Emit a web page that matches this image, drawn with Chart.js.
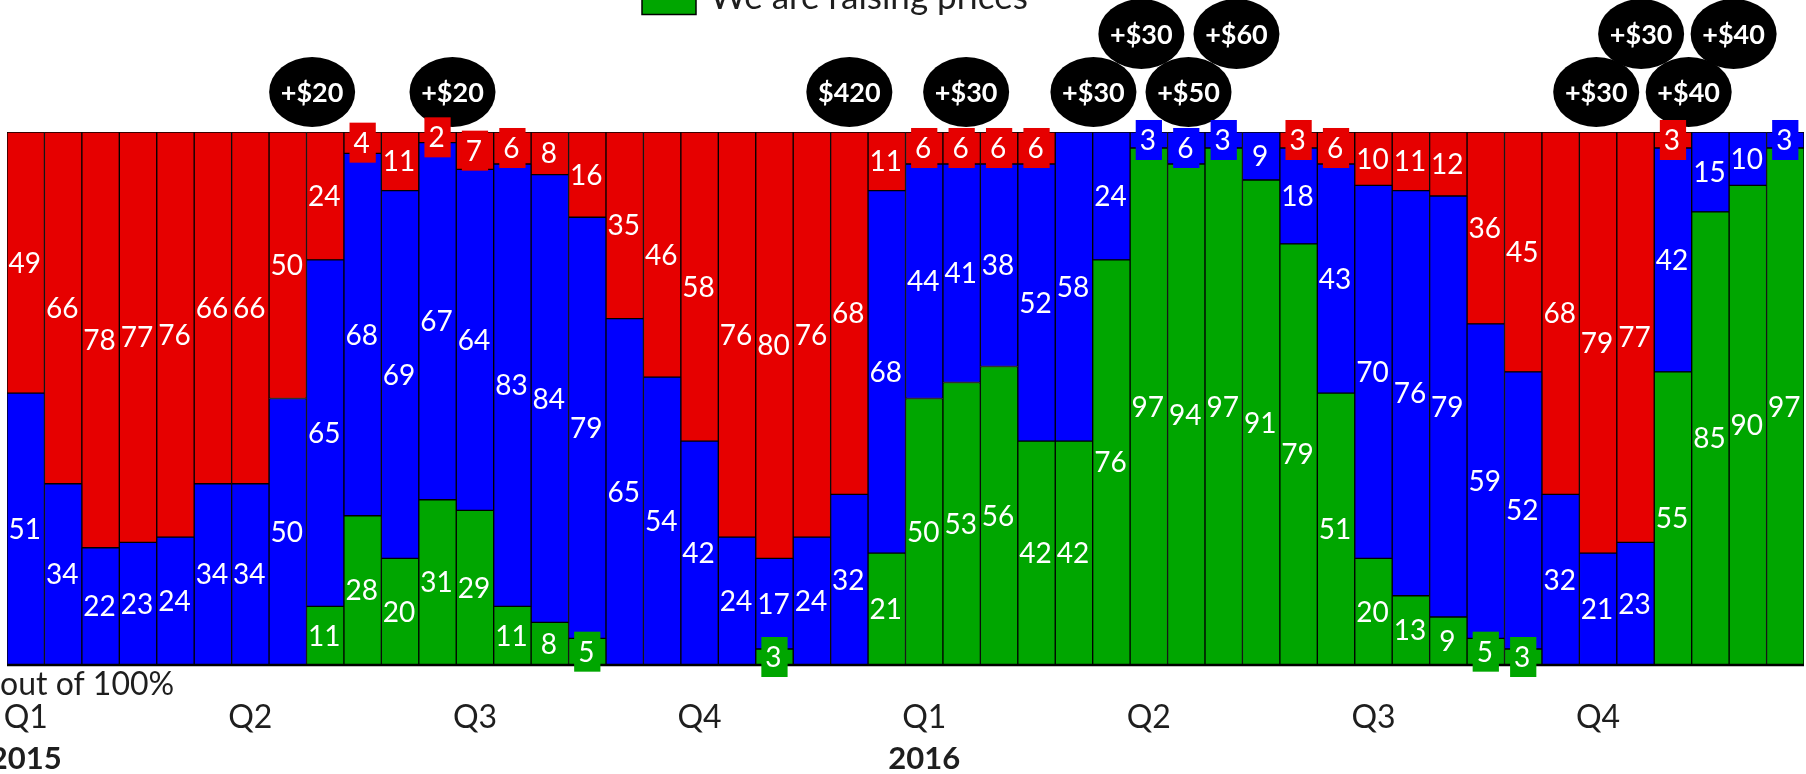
<!DOCTYPE html>
<html><head><meta charset="utf-8">
<script src="https://cdn.jsdelivr.net/npm/chart.js@4"></script>
<style>html,body{margin:0;padding:0;background:#fff;overflow:hidden}canvas{display:block}</style>
</head><body>
<canvas id="c" width="1806" height="774" style="width:1806px;height:774px"></canvas>
<script>
// ---- tick labels ----
const quarterTicks = [
  'Q1','','','','','',
  'Q2','','','','','',
  'Q3','','','','','',
  'Q4','','','','','',
  'Q1','','','','','',
  'Q2','','','','','',
  'Q3','','','','','',
  'Q4','','','','',''
];
const yearTicks = [
  '2015','','','','','',
  '','','','','','',
  '','','','','','',
  '','','','','','',
  '2016','','','','','',
  '','','','','','',
  '','','','','','',
  '','','','','',''
];
const axisNote = 'out of 100%';
const legendLabel = 'We are raising prices';

// ---- series values (out of 100) ----
const greenValues = [0,0,0,0,0,0,0,0,11,28,20,31,29,11,8,5,0,0,0,0,3,0,0,21,50,53,56,42,42,76,97,94,97,91,79,51,20,13,9,5,3,0,0,0,55,85,90,97];
const blueValues  = [51,34,22,23,24,34,34,50,65,68,69,67,64,83,84,79,65,54,42,24,17,24,32,68,44,41,38,52,58,24,3,6,3,9,18,43,70,76,79,59,52,32,21,23,42,15,10,3];
const redValues   = [49,66,78,77,76,66,66,50,24,4,11,2,7,6,8,16,35,46,58,76,80,76,68,11,6,6,6,6,0,0,0,0,0,0,3,6,10,11,12,36,45,68,79,77,3,0,0,0];

// ---- callouts (category position, row) ----
const calloutText = ['+$20','+$20','$420','+$30','+$30','+$30','+$50','+$60','+$30','+$30','+$40','+$40'];
const calloutAt   = [7.65, 11.4, 22.0, 25.12, 28.52, 29.8, 31.06, 32.34, 41.95, 43.15, 44.42, 45.62];
const calloutRow  = [0,0,0,0,0,1,0,1,0,1,0,1];

const GREEN = '#00A600', BLUE = '#0000FF', RED = '#E60000';
const FONT = 'Lato, "Open Sans", sans-serif';

const overlay = {
  id: 'overlay',
  afterDatasetsDraw(chart) {
    const ctx = chart.ctx, ca = chart.chartArea, xs = chart.scales.x;
    ctx.save();
    // bottom axis line
    ctx.strokeStyle = '#000'; ctx.lineWidth = 2.5;
    ctx.beginPath(); ctx.moveTo(ca.left, ca.bottom); ctx.lineTo(ca.right, ca.bottom); ctx.stroke();
    // callout ellipses
    const step = xs.getPixelForValue(1) - xs.getPixelForValue(0);
    ctx.textAlign = 'center'; ctx.textBaseline = 'alphabetic';
    const cfs = 27;
    calloutAt.forEach((at, i) => {
      const f = Math.floor(at);
      const x = xs.getPixelForValue(f) + (at - f) * step;
      const y = ca.top - (calloutRow[i] ? 98 : 40);
      ctx.fillStyle = '#000';
      ctx.beginPath(); ctx.ellipse(x, y, 43, 35, 0, 0, Math.PI * 2); ctx.fill();
      ctx.fillStyle = '#fff'; ctx.font = 'bold ' + cfs + 'px ' + FONT;
      ctx.fillText(calloutText[i], x, y + 0.36 * cfs);
    });
    // value labels
    const fs = 28;
    ctx.font = fs + 'px ' + FONT;
    chart.data.datasets.forEach((ds, d) => {
      const meta = chart.getDatasetMeta(d);
      meta.data.forEach((el, i) => {
        const v = ds.data[i]; if (!v) return;
        const p = el.getProps(['x', 'y', 'base'], true);
        const cy = (p.y + p.base) / 2;
        const txt = String(v);
        const tw = ctx.measureText(txt).width;
        const bh = 40, bw = tw + 10;
        if (Math.abs(p.base - p.y) < bh) {
          ctx.fillStyle = ds.backgroundColor;
          ctx.fillRect(p.x - bw / 2, cy - bh / 2, bw, bh);
        }
        ctx.fillStyle = '#fff';
        ctx.fillText(txt, p.x - 1, cy + 0.358 * fs);
      });
    });
    ctx.restore();
  },
  afterDraw(chart) {
    const ctx = chart.ctx, xs = chart.scales.x;
    ctx.save();
    // legend (only visible entry)
    ctx.fillStyle = GREEN; ctx.strokeStyle = '#000'; ctx.lineWidth = 1.5;
    ctx.fillRect(642, -40, 54, 54.5); ctx.strokeRect(642, -40, 54, 54.5);
    ctx.fillStyle = '#1e1e1e'; ctx.textAlign = 'left'; ctx.textBaseline = 'alphabetic';
    ctx.font = '35px ' + FONT;
    ctx.fillText(legendLabel, 710, 9);
    // axis note
    ctx.font = '32px ' + FONT;
    ctx.fillText(axisNote, 0, 695);
    // quarter ticks
    ctx.textAlign = 'center';
    quarterTicks.forEach((t, i) => { if (t) ctx.fillText(t, xs.getPixelForValue(i), 728); });
    // year ticks
    ctx.font = 'bold 31px ' + FONT;
    yearTicks.forEach((t, i) => { if (t) ctx.fillText(t, xs.getPixelForValue(i), 769); });
    ctx.restore();
  }
};

new Chart(document.getElementById('c'), {
  type: 'bar',
  data: {
    labels: quarterTicks,
    datasets: [
      { label: legendLabel, data: greenValues.map(v => v || null), backgroundColor: GREEN },
      { label: 'blue', data: blueValues.map(v => v || null), backgroundColor: BLUE },
      { label: 'red', data: redValues.map(v => v || null), backgroundColor: RED }
    ]
  },
  options: {
    responsive: false,
    animation: false,
    layout: { padding: { left: 7, right: 2, top: 132, bottom: 109 } },
    plugins: { legend: { display: false }, tooltip: { enabled: false } },
    datasets: { bar: { barPercentage: 1, categoryPercentage: 1, borderWidth: 1, borderColor: '#000', borderSkipped: false } },
    scales: {
      x: { stacked: true, display: false },
      y: { stacked: true, display: false, min: 0, max: 100 }
    }
  },
  plugins: [overlay]
});
</script>
</body></html>
